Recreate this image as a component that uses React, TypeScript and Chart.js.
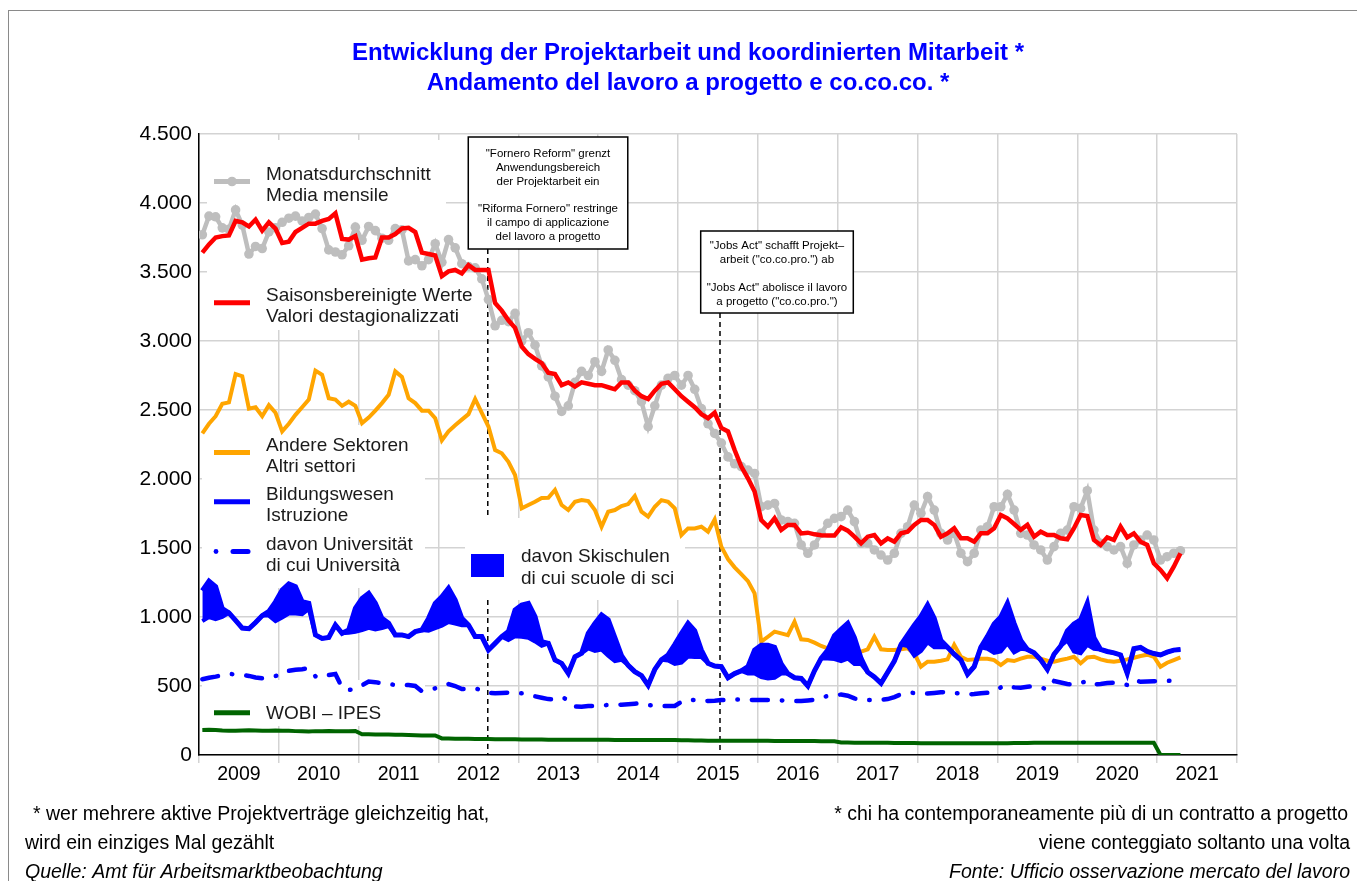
import React, { useEffect, useRef } from 'react';
import { Chart, registerables } from 'chart.js';

Chart.register(...registerables);

const FONT = '"Liberation Sans", Arial, Helvetica, sans-serif';

// ---- tick labels ----
const yearLabels = ['2009', '2010', '2011', '2012', '2013', '2014', '2015', '2016', '2017', '2018', '2019', '2020', '2021'];

// ---- monthly series, Jan 2009 .. Apr 2021 ----
const monatsdurchschnitt = [
  3770, 3905, 3900, 3820, 3810, 3950, 3840, 3630, 3685, 3670, 3790, 3820,
  3860, 3890, 3905, 3870, 3895, 3920, 3815, 3660, 3645, 3625, 3690, 3825,
  3730, 3830, 3800, 3745, 3730, 3815, 3805, 3580, 3590, 3545, 3590, 3705,
  3570, 3735, 3675, 3560, 3540, 3530, 3450, 3300, 3110, 3150, 3140, 3200,
  3000, 3060, 2970, 2820, 2740, 2600, 2490, 2530, 2700, 2780, 2750, 2850,
  2780, 2935, 2860, 2720, 2680, 2640, 2560, 2380, 2530, 2680, 2730, 2750,
  2680, 2750, 2650, 2510, 2400, 2330, 2260, 2160, 2110, 2090, 2065, 2040,
  1800, 1811, 1823, 1703, 1691, 1679, 1522, 1462, 1522, 1606, 1679, 1715,
  1727, 1775, 1691, 1534, 1534, 1486, 1449, 1413, 1462, 1606, 1654, 1811,
  1751, 1872, 1775, 1606, 1558, 1606, 1462, 1401, 1462, 1630, 1654, 1799,
  1799, 1889, 1775, 1606, 1594, 1522, 1486, 1413, 1510, 1606, 1630, 1799,
  1787, 1915, 1630, 1534, 1510, 1486, 1510, 1389, 1522, 1558, 1594, 1558,
  1413, 1437, 1462, 1480,
];

const saisonbereinigt = [
  3640, 3700, 3750, 3760, 3765, 3870, 3860, 3830, 3880, 3800, 3860, 3815,
  3710, 3720, 3790, 3820, 3850, 3850, 3870, 3885, 3925, 3740, 3735, 3760,
  3590, 3600, 3605, 3750, 3750, 3775, 3815, 3820, 3790, 3640, 3630, 3620,
  3470, 3505, 3515, 3490, 3550, 3515, 3515, 3515, 3275, 3220, 3150, 3095,
  2960, 2905, 2870, 2840, 2770, 2760, 2680, 2700, 2670, 2700, 2690, 2680,
  2680, 2665, 2650, 2700, 2700, 2640, 2600, 2580, 2640, 2690, 2700, 2650,
  2600, 2560, 2520, 2470, 2440, 2480, 2370, 2345, 2210, 2090, 2005, 1910,
  1703, 1655, 1715, 1631, 1667, 1667, 1606, 1611, 1599, 1592, 1590, 1590,
  1650, 1626, 1582, 1534, 1582, 1594, 1534, 1570, 1546, 1606, 1618, 1667,
  1703, 1703, 1667, 1582, 1606, 1643, 1570, 1570, 1546, 1606, 1606, 1643,
  1739, 1715, 1674, 1631, 1667, 1582, 1618, 1594, 1594, 1570, 1563, 1643,
  1739, 1732, 1558, 1522, 1577, 1558, 1655, 1577, 1606, 1546, 1522, 1389,
  1341, 1281, 1365, 1462,
];

const andereSektoren = [
  2330, 2400, 2455, 2545, 2555, 2760, 2745, 2510, 2520, 2455, 2535, 2480,
  2345, 2400, 2465, 2520, 2575, 2785, 2755, 2585, 2575, 2530, 2560, 2530,
  2405, 2445, 2495, 2550, 2610, 2780, 2740, 2585, 2550, 2495, 2495, 2440,
  2280, 2345, 2390, 2430, 2470, 2580, 2480, 2380, 2210, 2186, 2125, 2029,
  1787, 1811, 1835, 1862, 1864, 1920, 1811, 1775, 1835, 1847, 1840, 1775,
  1654, 1763, 1775, 1804, 1818, 1876, 1763, 1727, 1799, 1847, 1835, 1787,
  1594, 1642, 1642, 1654, 1618, 1707, 1510, 1420, 1360, 1310, 1260, 1171,
  821, 857, 894, 881, 869, 966, 838, 834, 814, 790, 773, 756,
  737, 725, 737, 749, 766, 857, 766, 761, 761, 766, 773, 737,
  640, 676, 676, 683, 693, 798, 712, 688, 693, 698, 698, 688,
  652, 688, 681, 698, 712, 712, 698, 683, 676, 688, 698, 712,
  664, 707, 712, 693, 681, 676, 683, 693, 705, 717, 727, 712,
  640, 669, 688, 707,
];

const bildungswesen = [
  1190, 1260, 1220, 1060, 1030, 975, 920, 915, 960, 1010, 1040, 1110,
  1196, 1240, 1220, 1111, 1099, 870, 845, 852, 942, 882, 906, 1063,
  1135, 1172, 1100, 990, 955, 870, 870, 858, 894, 906, 990, 1099,
  1147, 1208, 1123, 990, 942, 858, 858, 761, 809, 858, 894, 1051,
  1087, 1099, 1003, 821, 809, 688, 664, 592, 712, 737, 882, 954,
  1015, 980, 850, 720, 650, 604, 575, 505, 620, 690, 725, 800,
  880, 954, 900, 760, 665, 645, 640, 560, 590, 610, 640, 760,
  795, 795, 780, 660, 590, 560, 555, 500, 610, 700, 760, 865,
  910, 954, 850, 700, 600, 565, 520, 600, 680, 800, 870, 940,
  1003, 1087, 990, 830, 780, 730, 688, 585, 640, 780, 860, 950,
  1000, 1099, 954, 830, 765, 740, 690, 620, 730, 790, 900, 950,
  978, 1099, 850, 765, 750, 740, 725, 592, 770, 779, 750, 735,
  725, 745, 760, 764,
];

const skischulen = [
  220, 260, 235, 60, 0, 0, 0, 0, 0, 0, 30, 140,
  200, 215, 195, 90, 40, 0, 0, 0, 0, 0, 20, 170,
  230, 250, 190, 70, 20, 0, 0, 0, 0, 0, 90, 180,
  210, 245, 170, 50, 0, 0, 0, 0, 0, 0, 60, 190,
  230, 250, 180, 30, 0, 0, 0, 0, 0, 0, 110, 200,
  250, 260, 170, 30, 0, 0, 0, 0, 0, 0, 40, 140,
  210, 240, 190, 50, 0, 0, 0, 0, 0, 0, 50, 170,
  230, 240, 220, 70, 0, 0, 0, 0, 0, 0, 60, 170,
  230, 255, 190, 40, 0, 0, 0, 0, 0, 0, 80, 220,
  250, 270, 210, 50, 0, 0, 0, 0, 0, 0, 90, 210,
  250, 290, 210, 60, 0, 0, 0, 0, 0, 0, 70, 200,
  240, 300, 80, 0, 0, 0, 0, 0, 0, 0, 0, 0,
  0, 0, 0, 0,
];

const universitaet = [
  549, 560, 568, 578, 587, 585, 580, 573, 562, 556, 565, 573,
  580, 610, 618, 622, 628, 570, 560, 580, 587, 490, 471, 480,
  505, 532, 528, 520, 515, 507, 505, 507, 500, 462, 470, 483,
  500, 514, 500, 478, 478, 483, 470, 450, 447, 450, 452, 450,
  447, 440, 425, 415, 405, 404, 418, 400, 352, 350, 355, 356,
  360, 362, 362, 365, 368, 372, 375, 362, 358, 355, 355, 355,
  385, 403, 398, 393, 392, 393, 398, 400, 403, 403, 400, 398,
  398, 398, 398, 396, 393, 392, 391, 395, 400, 410, 430, 435,
  438, 430, 410, 398, 398, 398, 400, 405, 420, 440, 451, 450,
  447, 446, 450, 455, 456, 450, 445, 439, 442, 448, 451, 465,
  490, 508, 490, 488, 495, 498, 490, 476, 536, 525, 515, 510,
  522, 536, 512, 515, 522, 524, 515, 508, 545, 530, 532, 535,
  536, 537, 538, 543,
];

const wobiIpes = [
  182, 183, 182, 178, 176, 175, 178, 180, 177, 175, 176, 178,
  176, 175, 173, 172, 171, 173, 172, 174, 173, 172, 173, 174,
  150, 150, 149, 148, 148, 147, 146, 145, 144, 142, 141, 142,
  120, 119, 118, 117, 117, 116, 116, 116, 115, 115, 114, 114,
  113, 113, 112, 112, 111, 111, 111, 110, 110, 110, 110, 110,
  110, 110, 109, 109, 109, 109, 108, 108, 108, 108, 108, 108,
  106, 106, 105, 105, 104, 104, 104, 104, 103, 103, 103, 103,
  103, 103, 102, 102, 102, 102, 101, 101, 101, 100, 100, 100,
  90, 90, 89, 89, 89, 88, 88, 88, 87, 87, 87, 87,
  86, 86, 86, 85, 85, 85, 85, 85, 85, 85, 86, 86,
  86, 86, 87, 87, 87, 88, 88, 88, 88, 88, 88, 89,
  89, 89, 89, 89, 88, 88, 88, 88, 88, 88, 88, 88,
  0, 0, 0, 0,
];

// reform dates, in months since Jan 2009
const reformFornero = 43.4;
const reformJobsAct = 78.3;

// ---- texts ----
const titleLines = [
  'Entwicklung der Projektarbeit und koordinierten Mitarbeit *',
  'Andamento del lavoro a progetto e co.co.co. *',
];
const footLeft = [
  '* wer mehrere aktive Projektverträge gleichzeitig hat,',
  'wird ein einziges Mal gezählt',
  'Quelle: Amt für Arbeitsmarktbeobachtung',
];
const footRight = [
  '* chi ha contemporaneamente più di un contratto a progetto',
  'viene conteggiato soltanto una volta',
  'Fonte: Ufficio osservazione mercato del lavoro',
];
const forneroText = [
  '"Fornero Reform" grenzt', 'Anwendungsbereich', 'der Projektarbeit ein', '',
  '"Riforma Fornero" restringe', 'il campo di applicazione', 'del lavoro a progetto',
];
const jobsActText = [
  '"Jobs Act" schafft Projekt–', 'arbeit ("co.co.pro.") ab', '',
  '"Jobs Act" abolisce il lavoro', 'a progetto ("co.co.pro.")',
];

const C_GRAY = '#bebebe';
const C_RED = '#ff0000';
const C_ORANGE = '#ffa500';
const C_BLUE = '#0000ff';
const C_GREEN = '#006400';

const toPoints = (arr: number[]) => arr.map((v, i) => ({ x: i + 0.5, y: v }));
const fmt = (v: number) =>
  v >= 1000 ? `${Math.floor(v / 1000)}.${String(v % 1000).padStart(3, '0')}` : String(v);

const overlayPlugin = {
  id: 'overlay',
  beforeDatasetsDraw(chart: any) {
    const { ctx, chartArea: ca, scales } = chart;
    const xs = scales.x;
    ctx.save();
    // reform marker lines
    ctx.strokeStyle = '#000';
    ctx.lineWidth = 1.5;
    ctx.setLineDash([5, 4]);
    const marks = [
      { m: reformFornero, top: 249 },
      { m: reformJobsAct, top: 313 },
    ];
    for (const mk of marks) {
      const px = xs.getPixelForValue(mk.m);
      ctx.beginPath();
      ctx.moveTo(px, mk.top);
      ctx.lineTo(px, ca.bottom);
      ctx.stroke();
    }
    ctx.setLineDash([]);
    // white legend backgrounds
    ctx.fillStyle = '#ffffff';
    const L = ca.left, T = ca.top;
    const boxes = [
      [8, 6, 239, 190],
      [3, 291, 223, 163],
      [266, 384, 220, 82],
      [3, 546, 223, 46],
    ];
    for (const b of boxes) ctx.fillRect(L + b[0], T + b[1], b[2], b[3]);
    ctx.restore();
  },
  afterDatasetsDraw(chart: any) {
    const { ctx, chartArea: ca, scales } = chart;
    const xs = scales.x;
    ctx.save();
    // annotation boxes
    const ann = [
      { m: reformFornero, dx: -19.5, top: 137, w: 159.5, h: 112, lines: forneroText, base: 157, step: 13.8 },
      { m: reformJobsAct, dx: -19.3, top: 231, w: 152.6, h: 82, lines: jobsActText, base: 249, step: 14 },
    ];
    for (const a of ann) {
      const left = xs.getPixelForValue(a.m) + a.dx;
      ctx.fillStyle = '#fff';
      ctx.fillRect(left, a.top, a.w, a.h);
      ctx.strokeStyle = '#000';
      ctx.lineWidth = 1.5;
      ctx.strokeRect(left, a.top, a.w, a.h);
      ctx.fillStyle = '#000';
      ctx.font = `11.5px ${FONT}`;
      ctx.textAlign = 'center';
      ctx.textBaseline = 'alphabetic';
      a.lines.forEach((t, i) => {
        if (t) ctx.fillText(t, left + a.w / 2, a.base + i * a.step);
      });
    }

    // legend
    const L = ca.left, T = ca.top;
    const lx0 = L + 15, lx1 = L + 51, tx = L + 67;
    ctx.font = `19px ${FONT}`;
    ctx.textAlign = 'left';
    ctx.textBaseline = 'alphabetic';
    ctx.lineCap = 'butt';
    const lineEntry = (y: number, color: string, w: number, l1: string, l2?: string) => {
      ctx.strokeStyle = color;
      ctx.lineWidth = w;
      ctx.beginPath();
      ctx.moveTo(lx0, y);
      ctx.lineTo(lx1, y);
      ctx.stroke();
      ctx.fillStyle = '#1a1a1a';
      if (l2 !== undefined) {
        ctx.fillText(l1, tx, y - 2);
        ctx.fillText(l2, tx, y + 19.5);
      } else {
        ctx.fillText(l1, tx, y + 6.5);
      }
    };
    lineEntry(T + 47.5, C_GRAY, 5, 'Monatsdurchschnitt', 'Media mensile');
    ctx.fillStyle = C_GRAY;
    ctx.beginPath();
    ctx.arc(L + 33, T + 47.5, 4.8, 0, Math.PI * 2);
    ctx.fill();
    lineEntry(T + 168.7, C_RED, 5, 'Saisonsbereinigte Werte', 'Valori destagionalizzati');
    lineEntry(T + 318.5, C_ORANGE, 5, 'Andere Sektoren', 'Altri settori');
    lineEntry(T + 367.7, C_BLUE, 5, 'Bildungswesen', 'Istruzione');
    // dash-dot entry
    const uy = T + 417.5;
    ctx.fillStyle = C_BLUE;
    ctx.beginPath();
    ctx.arc(L + 17, uy, 2.4, 0, Math.PI * 2);
    ctx.fill();
    ctx.strokeStyle = C_BLUE;
    ctx.lineWidth = 5;
    ctx.lineCap = 'round';
    ctx.beginPath();
    ctx.moveTo(L + 34, uy);
    ctx.lineTo(L + 49, uy);
    ctx.stroke();
    ctx.lineCap = 'butt';
    ctx.fillStyle = '#1a1a1a';
    ctx.fillText('davon Universität', tx, uy - 2);
    ctx.fillText('di cui Università', tx, uy + 19.5);
    // ski band entry
    ctx.fillStyle = C_BLUE;
    ctx.fillRect(L + 272, T + 420, 33, 23);
    ctx.fillStyle = '#1a1a1a';
    ctx.fillText('davon Skischulen', L + 322, T + 428);
    ctx.fillText('di cui scuole di sci', L + 322, T + 449.5);
    // WOBI
    lineEntry(T + 578.7, C_GREEN, 5, 'WOBI – IPES');
    ctx.restore();
  },
  afterDraw(chart: any) {
    const { ctx } = chart;
    ctx.save();
    ctx.fillStyle = '#0000ff';
    ctx.font = `bold 24px ${FONT}`;
    ctx.textAlign = 'center';
    ctx.textBaseline = 'alphabetic';
    ctx.fillText(titleLines[0], 688, 59.5);
    ctx.fillText(titleLines[1], 688, 89.5);

    ctx.fillStyle = '#000';
    ctx.textAlign = 'left';
    ctx.font = `19.5px ${FONT}`;
    ctx.fillText(footLeft[0], 33, 819.5);
    ctx.fillText(footLeft[1], 25, 848.5);
    ctx.font = `italic 19.5px ${FONT}`;
    ctx.fillText(footLeft[2], 25, 877.5);
    ctx.textAlign = 'right';
    ctx.font = `19.5px ${FONT}`;
    ctx.fillText(footRight[0], 1348, 819.5);
    ctx.fillText(footRight[1], 1350, 848.5);
    ctx.font = `italic 19.5px ${FONT}`;
    ctx.fillText(footRight[2], 1350, 877.5);
    ctx.restore();
  },
};

export default function App() {
  const ref = useRef<HTMLCanvasElement | null>(null);

  useEffect(() => {
    if (!ref.current) return;
    const skiLower = bildungswesen.map((v, i) => v - skischulen[i]);
    const chart = new Chart(ref.current, {
      type: 'line',
      data: {
        datasets: [
          {
            label: 'Monatsdurchschnitt',
            data: toPoints(monatsdurchschnitt),
            borderColor: C_GRAY,
            backgroundColor: C_GRAY,
            borderWidth: 4.5,
            pointRadius: 4.8,
            pointBorderWidth: 0,
            pointBackgroundColor: C_GRAY,
            order: 1,
          },
          {
            label: 'Saisonsbereinigte Werte',
            data: toPoints(saisonbereinigt),
            borderColor: C_RED,
            borderWidth: 4.5,
            pointRadius: 0,
            order: 0,
          },
          {
            label: 'Andere Sektoren',
            data: toPoints(andereSektoren),
            borderColor: C_ORANGE,
            borderWidth: 4,
            pointRadius: 0,
            order: 5,
          },
          {
            label: 'Bildungswesen',
            data: toPoints(bildungswesen),
            borderColor: C_BLUE,
            borderWidth: 5,
            pointRadius: 0,
            order: 2,
          },
          {
            label: 'davon Skischulen',
            data: toPoints(skiLower),
            borderColor: C_BLUE,
            backgroundColor: C_BLUE,
            borderWidth: 4,
            pointRadius: 0,
            fill: '-1',
            order: 3,
          },
          {
            label: 'davon Universität',
            data: toPoints(universitaet),
            borderColor: C_BLUE,
            borderWidth: 4.5,
            borderDash: [16, 14, 0.5, 14],
            borderCapStyle: 'round',
            pointRadius: 0,
            order: 4,
          },
          {
            label: 'WOBI – IPES',
            data: toPoints(wobiIpes),
            borderColor: C_GREEN,
            borderWidth: 4,
            pointRadius: 0,
            order: 6,
          },
        ] as any,
      },
      options: {
        animation: false,
        responsive: false,
        events: [],
        layout: { padding: { left: 0, top: 134, right: 120, bottom: 96 } },
        elements: { line: { tension: 0 } },
        plugins: {
          legend: { display: false },
          title: { display: false },
          tooltip: { enabled: false },
        },
        scales: {
          x: {
            type: 'linear',
            min: 0,
            max: 156,
            afterBuildTicks: (s: any) => {
              s.ticks = Array.from({ length: 27 }, (_, k) => ({ value: k * 6 }));
            },
            afterFit: (s: any) => {
              s.height = 30;
            },
            ticks: {
              autoSkip: false,
              maxRotation: 0,
              padding: 0,
              color: '#000',
              font: { size: 19.5, family: FONT },
              callback: (v: any) => (v % 12 === 6 ? yearLabels[(v - 6) / 12] : ''),
            },
            grid: {
              color: (c: any) => (c.tick && c.tick.value % 12 === 0 ? '#d3d3d3' : 'rgba(0,0,0,0)'),
              lineWidth: 1.5,
              tickLength: 8,
            },
            border: { color: '#000', width: 1.5 },
          },
          y: {
            min: 0,
            max: 4500,
            afterFit: (s: any) => {
              s.width = 199;
            },
            ticks: {
              stepSize: 500,
              padding: 7,
              color: '#000',
              font: { size: 21, family: FONT },
              callback: (v: any) => fmt(Number(v)),
            },
            grid: { color: '#d3d3d3', lineWidth: 1.5, drawTicks: false },
            border: { color: '#000', width: 1.5 },
          },
        },
      } as any,
      plugins: [overlayPlugin],
    });
    return () => chart.destroy();
  }, []);

  return (
    <div style={{ position: 'absolute', left: 0, top: 0, width: 1357, height: 881, background: '#fff', overflow: 'hidden' }}>
      <canvas ref={ref} width={1357} height={881} style={{ width: 1357, height: 881, display: 'block' }} />
      <div
        style={{
          position: 'absolute',
          left: 8,
          top: 10,
          width: 1400,
          height: 900,
          border: '1.5px solid #8a8a8a',
          pointerEvents: 'none',
        }}
      />
    </div>
  );
}
